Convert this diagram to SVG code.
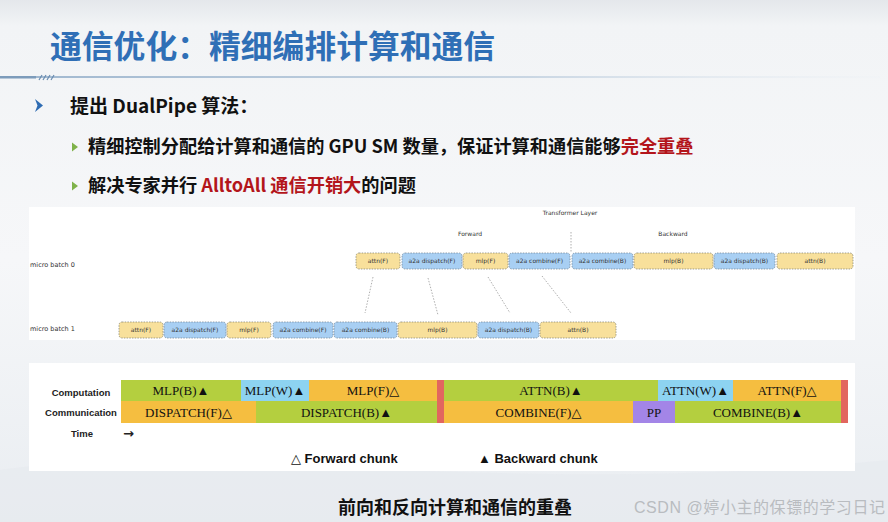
<svg xmlns="http://www.w3.org/2000/svg" width="888" height="522" viewBox="0 0 888 522">
<defs>
<linearGradient id="bg" x1="0" y1="0" x2="0" y2="1">
<stop offset="0" stop-color="#e4e7eb"/>
<stop offset="0.05" stop-color="#f2f4f6"/>
<stop offset="0.5" stop-color="#f6f7f9"/>
<stop offset="1" stop-color="#e9edf1"/>
</linearGradient>
<linearGradient id="sep" x1="0" y1="0" x2="1" y2="0">
<stop offset="0" stop-color="#9fb7cf"/>
<stop offset="0.6" stop-color="#c9d6e3"/>
<stop offset="1" stop-color="#eef2f6" stop-opacity="0.3"/>
</linearGradient>
<style>
.zh{font-family:"Noto Sans CJK SC","Noto Sans",sans-serif;font-weight:700}
.hand{font-family:"DejaVu Sans",sans-serif;font-size:6px;fill:#333;text-anchor:middle}
.lbl{font-family:"DejaVu Sans",sans-serif;font-size:6.5px;fill:#333}
.yb{fill:#f8e09b;stroke:#8a8a7a;stroke-width:0.8;stroke-dasharray:1.5 1.2}
.bb{fill:#a8cff3;stroke:#7a8a99;stroke-width:0.8;stroke-dasharray:1.5 1.2}
.dot{stroke:#999;stroke-width:0.8;stroke-dasharray:1.5 1.5;fill:none}
.tl{font-family:"Liberation Serif","DejaVu Serif",serif;font-size:13px;fill:#111;text-anchor:middle}
.rl{font-family:"Liberation Sans",Arial,sans-serif;font-size:9.5px;font-weight:700;fill:#222;text-anchor:middle}
.g{fill:#b4cf3f}.o{fill:#f5be40}.c{fill:#8dd3f1}.r{fill:#e2665f}.p{fill:#a385e7}
.leg{font-family:"Liberation Sans",Arial,"DejaVu Sans",sans-serif;font-size:13px;font-weight:700;fill:#111}
</style>
</defs>
<rect x="0" y="0" width="888" height="522" fill="url(#bg)"/>
<path d="M0 470 C200 440 500 500 888 460 L888 522 L0 522 Z" fill="#e6eaef" opacity="0.6"/>

<!-- title -->
<g id="title">
<text x="50" y="58" class="zh" font-size="31.8" fill="#2f6fb6">通信优化：精细编排计算和通信</text>
</g>
<g id="separator">
<rect x="0" y="76" width="880" height="2" fill="url(#sep)"/>
<rect x="0" y="76" width="36" height="2.5" fill="#7d9cbb"/>
<path d="M39 80 L42 75 M43 80 L46 75 M47 80 L50 75 M51 80 L54 75" stroke="#6a8cb0" stroke-width="1.2"/>
</g>

<!-- bullets -->
<g id="bullet1">
<path d="M35 99 L43 105.5 L35 112 L37.5 105.5 Z" fill="#2e6cb3"/>
<text x="70" y="113" class="zh" font-size="19" fill="#111">提出 DualPipe 算法：</text>
</g>
<g id="bullet2">
<path d="M72 142.5 L78 147 L72 151.5 Z" fill="#7fb24a"/>
<text x="88" y="153" class="zh" font-size="18.2" fill="#111">精细控制分配给计算和通信的 GPU SM 数量，保证计算和通信能够<tspan fill="#b3151b">完全重叠</tspan></text>
</g>
<g id="bullet3">
<path d="M72 181.5 L78 186 L72 190.5 Z" fill="#7fb24a"/>
<text x="88" y="192" class="zh" font-size="18.2" fill="#111">解决专家并行 <tspan fill="#b3151b">AlltoAll 通信开销大</tspan>的问题</text>
</g>

<!-- transformer panel -->
<g id="transformer-panel">
<rect x="29" y="207" width="826" height="133" fill="#ffffff"/>
<text x="570" y="215" class="hand" font-size="6.5">Transformer Layer</text>
<text x="470" y="236" class="hand">Forward</text>
<text x="673" y="236" class="hand">Backward</text>
<text x="30" y="267" class="lbl">micro batch 0</text>
<text x="30" y="331" class="lbl">micro batch 1</text>
</g>

<g id="connectors">
<path class="dot" d="M571 232 L571 252"/>
<path class="dot" d="M373 277 L365 313"/>
<path class="dot" d="M428 278 L438 315"/>
<path class="dot" d="M488 277 L510 313"/>
<path class="dot" d="M542 276 L571 313"/>
</g>

<g id="r0-attnF"><rect class="yb" x="356" y="253" width="44" height="16" rx="3"/><text class="hand" x="378" y="263">attn(F)</text></g>
<g id="r0-dispF"><rect class="bb" x="402" y="253" width="60" height="16" rx="3"/><text class="hand" x="432" y="263">a2a dispatch(F)</text></g>
<g id="r0-mlpF"><rect class="yb" x="463" y="253" width="45" height="16" rx="3"/><text class="hand" x="485.5" y="263">mlp(F)</text></g>
<g id="r0-combF"><rect class="bb" x="509" y="253" width="61" height="16" rx="3"/><text class="hand" x="539.5" y="263">a2a combine(F)</text></g>
<g id="r0-combB"><rect class="bb" x="572" y="253" width="61" height="16" rx="3"/><text class="hand" x="602.5" y="263">a2a combine(B)</text></g>
<g id="r0-mlpB"><rect class="yb" x="634" y="253" width="79" height="16" rx="3"/><text class="hand" x="673.5" y="263">mlp(B)</text></g>
<g id="r0-dispB"><rect class="bb" x="714" y="253" width="61" height="16" rx="3"/><text class="hand" x="744.5" y="263">a2a dispatch(B)</text></g>
<g id="r0-attnB"><rect class="yb" x="777" y="253" width="76" height="16" rx="3"/><text class="hand" x="815" y="263">attn(B)</text></g>

<g id="r1-attnF"><rect class="yb" x="119" y="322" width="44" height="16" rx="3"/><text class="hand" x="141" y="332">attn(F)</text></g>
<g id="r1-dispF"><rect class="bb" x="164" y="322" width="62" height="16" rx="3"/><text class="hand" x="195" y="332">a2a dispatch(F)</text></g>
<g id="r1-mlpF"><rect class="yb" x="227" y="322" width="44" height="16" rx="3"/><text class="hand" x="249" y="332">mlp(F)</text></g>
<g id="r1-combF"><rect class="bb" x="273" y="322" width="60" height="16" rx="3"/><text class="hand" x="303" y="332">a2a combine(F)</text></g>
<g id="r1-combB"><rect class="bb" x="334" y="322" width="63" height="16" rx="3"/><text class="hand" x="365.5" y="332">a2a combine(B)</text></g>
<g id="r1-mlpB"><rect class="yb" x="398" y="322" width="79" height="16" rx="3"/><text class="hand" x="437.5" y="332">mlp(B)</text></g>
<g id="r1-dispB"><rect class="bb" x="478" y="322" width="61" height="16" rx="3"/><text class="hand" x="508.5" y="332">a2a dispatch(B)</text></g>
<g id="r1-attnB"><rect class="yb" x="540" y="322" width="76" height="16" rx="3"/><text class="hand" x="578" y="332">attn(B)</text></g>

<!-- timeline panel -->
<g id="timeline-panel">
<rect x="29" y="363" width="826" height="108" fill="#ffffff"/>
<text class="rl" x="81" y="396">Computation</text>
<text class="rl" x="81" y="416">Communication</text>
<text class="rl" x="82" y="437">Time</text>
<text x="123" y="438" font-family="DejaVu Sans,sans-serif" font-size="13" font-weight="700" fill="#222">→</text>
</g>
<g id="comp-row">
<rect class="g" x="121" y="380" width="120" height="21"/><text class="tl" x="181" y="395">MLP(B)▲</text>
<rect class="c" x="241" y="380" width="68" height="21"/><text class="tl" x="275" y="395">MLP(W)▲</text>
<rect class="o" x="309" y="380" width="128" height="21"/><text class="tl" x="373" y="395">MLP(F)△</text>
<rect class="r" x="437" y="380" width="7" height="21"/>
<rect class="g" x="444" y="380" width="214" height="21"/><text class="tl" x="551" y="395">ATTN(B)▲</text>
<rect class="c" x="658" y="380" width="75" height="21"/><text class="tl" x="695.5" y="395">ATTN(W)▲</text>
<rect class="o" x="733" y="380" width="108" height="21"/><text class="tl" x="787" y="395">ATTN(F)△</text>
<rect class="r" x="841" y="380" width="7" height="21"/>
</g>
<g id="comm-row">
<rect class="o" x="121" y="401" width="135" height="22"/><text class="tl" x="188.5" y="416.5">DISPATCH(F)△</text>
<rect class="g" x="256" y="401" width="181" height="22"/><text class="tl" x="346.5" y="416.5">DISPATCH(B)▲</text>
<rect class="r" x="437" y="401" width="7" height="22"/>
<rect class="o" x="444" y="401" width="189" height="22"/><text class="tl" x="538.5" y="416.5">COMBINE(F)△</text>
<rect class="p" x="633" y="401" width="42" height="22"/><text class="tl" x="654" y="416.5">PP</text>
<rect class="g" x="675" y="401" width="166" height="22"/><text class="tl" x="758" y="416.5">COMBINE(B)▲</text>
<rect class="r" x="841" y="401" width="7" height="22"/>
</g>
<g id="legend">
<text class="leg" x="291" y="463">△ Forward chunk</text>
<text class="leg" x="478" y="463">▲ Backward chunk</text>
</g>

<g id="caption">
<text x="455" y="514" class="zh" font-size="18" fill="#111" text-anchor="middle">前向和反向计算和通信的重叠</text>
<text x="634" y="513" font-family="Liberation Sans,'Noto Sans CJK SC',sans-serif" font-size="16" fill="#b9bcc0" textLength="251">CSDN @婷小主的保镖的学习日记</text>
</g>
</svg>
